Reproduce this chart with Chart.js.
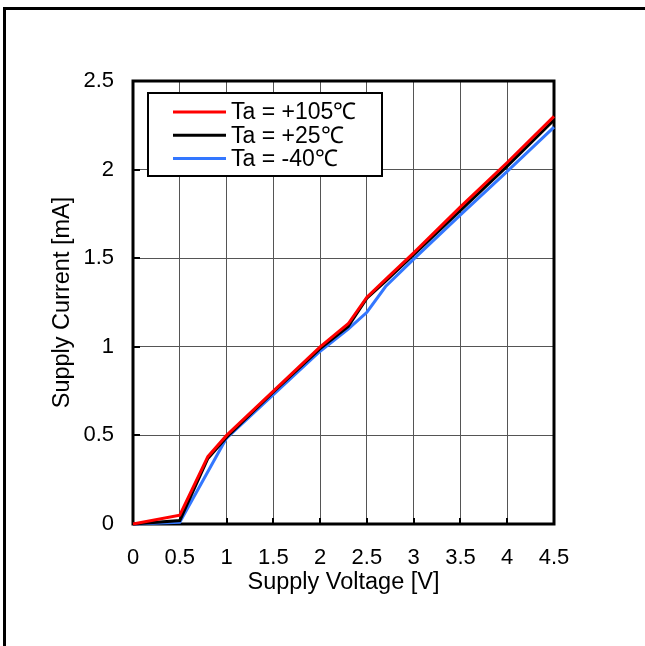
<!DOCTYPE html>
<html>
<head>
<meta charset="utf-8">
<script src="https://cdn.jsdelivr.net/npm/chart.js@4"></script>
<style>
  html, body { margin: 0; padding: 0; background: #fff; }
  canvas { display: block; }
</style>
</head>
<body>
<canvas id="chart" width="645" height="646"></canvas>
<script>
// supply current vs supply voltage
const labels = ['Ta = +105\u2103', 'Ta = +25\u2103', 'Ta = -40\u2103'];
const colors = ['#ff0000', '#000000', '#3377ff'];

const voltHot = [0, 0.5, 0.8, 1, 1.5, 2, 2.3, 2.5, 2.7, 3, 3.5, 4, 4.5];
const currHot = [0, 0.05, 0.38, 0.5, 0.75, 1.0, 1.13, 1.28, 1.38, 1.53, 1.79, 2.04, 2.3];

const voltRoom = [0, 0.5, 0.8, 1, 1.5, 2, 2.3, 2.5, 2.7, 3, 3.5, 4, 4.5];
const currRoom = [0, 0.02, 0.37, 0.49, 0.745, 0.99, 1.115, 1.275, 1.37, 1.52, 1.77, 2.02, 2.28];

const voltCold = [0, 0.5, 1, 1.5, 2, 2.3, 2.5, 2.7, 3, 3.5, 4, 4.5];
const currCold = [0, 0.01, 0.485, 0.73, 0.975, 1.1, 1.195, 1.34, 1.495, 1.745, 1.99, 2.24];

const xTicks = [0, 0.5, 1, 1.5, 2, 2.5, 3, 3.5, 4, 4.5];
const yTicks = [0, 0.5, 1, 1.5, 2, 2.5];

const FONT = "'Liberation Sans', Arial, sans-serif";

function pts(xs, ys) {
    return xs.map((x, i) => ({ x: x, y: ys[i] }));
}

function makeSet(i, xs, ys) {
    return {
        label: labels[i],
        data: pts(xs, ys),
        borderColor: colors[i],
        backgroundColor: colors[i],
        borderWidth: 3,
        pointRadius: 0,
        tension: 0,
        clip: 6
    };
}

// outer frame, plot border and the small inward ticks
const framePlugin = {
    id: 'frame',
    beforeDraw(chart) {
        const c = chart.ctx;
        c.save();
        c.fillStyle = '#fff';
        c.fillRect(0, 0, chart.width, chart.height);
        c.strokeStyle = '#000';
        c.lineWidth = 3;
        c.beginPath();
        c.moveTo(4.5, chart.height);
        c.lineTo(4.5, 8.5);
        c.lineTo(chart.width, 8.5);
        c.stroke();
        c.restore();
    },
    beforeDatasetsDraw(chart) {
        const c = chart.ctx;
        const a = chart.chartArea;
        const xs = chart.scales.x, ys = chart.scales.y;
        c.save();
        c.strokeStyle = '#000';
        c.lineWidth = 2;
        xTicks.forEach(v => {
            const px = Math.round(xs.getPixelForValue(v));
            c.beginPath();
            c.moveTo(px, a.bottom);
            c.lineTo(px, a.bottom - 6);
            c.stroke();
        });
        yTicks.forEach(v => {
            const py = Math.round(ys.getPixelForValue(v));
            c.beginPath();
            c.moveTo(a.left, py);
            c.lineTo(a.left + 7, py);
            c.stroke();
        });
        c.lineWidth = 3;
        c.strokeRect(a.left, a.top, a.right - a.left, a.bottom - a.top);
        c.restore();
    },
    afterDatasetsDraw(chart) {
        // legend box
        const c = chart.ctx;
        const bx = 148, by = 93, bw = 234, bh = 83;
        c.save();
        c.fillStyle = '#fff';
        c.fillRect(bx, by, bw, bh);
        c.strokeStyle = '#000';
        c.lineWidth = 2;
        c.strokeRect(bx, by, bw, bh);
        c.font = '23px ' + FONT;
        c.textBaseline = 'middle';
        c.textAlign = 'left';
        chart.data.datasets.forEach((ds, i) => {
            const y = by + 19 + i * 23.3;
            c.strokeStyle = ds.borderColor;
            c.lineWidth = 3;
            c.beginPath();
            c.moveTo(173, y);
            c.lineTo(226, y);
            c.stroke();
            c.fillStyle = '#000';
            c.fillText(ds.label, 231, y + 1);
        });
        c.restore();
    }
};

const ctx = document.getElementById('chart').getContext('2d');
const chart = new Chart(ctx, {
    type: 'line',
    data: {
        datasets: [
            makeSet(0, voltHot, currHot),
            makeSet(1, voltRoom, currRoom),
            makeSet(2, voltCold, currCold)
        ]
    },
    options: {
        responsive: false,
        animation: false,
        devicePixelRatio: 1,
        layout: { padding: { left: 0, top: 81, right: 91, bottom: 0 } },
        plugins: {
            legend: { display: false },
            tooltip: { enabled: false }
        },
        scales: {
            x: {
                type: 'linear',
                min: 0,
                max: 4.5,
                afterFit: s => { s.height = 122; },
                afterBuildTicks: s => { s.ticks = xTicks.map(v => ({ value: v })); },
                grid: { color: '#555', lineWidth: 1, drawTicks: false },
                border: { display: false },
                ticks: {
                    padding: 21,
                    color: '#000',
                    font: { family: FONT, size: 22 },
                    maxRotation: 0,
                    autoSkip: false,
                    callback: v => String(v)
                },
                title: {
                    display: true,
                    text: 'Supply Voltage [V]',
                    color: '#000',
                    font: { family: FONT, size: 23.5 },
                    padding: { top: 0, bottom: 49 }
                }
            },
            y: {
                type: 'linear',
                min: 0,
                max: 2.5,
                afterFit: s => { s.width = 133; },
                afterBuildTicks: s => { s.ticks = yTicks.map(v => ({ value: v })); },
                grid: { color: '#555', lineWidth: 1, drawTicks: false },
                border: { display: false },
                ticks: {
                    padding: 19,
                    color: '#000',
                    font: { family: FONT, size: 22 },
                    autoSkip: false,
                    callback: v => String(v)
                },
                title: {
                    display: true,
                    text: 'Supply Current [mA]',
                    color: '#000',
                    font: { family: FONT, size: 23.5 },
                    padding: { top: 48, bottom: 0 }
                }
            }
        }
    },
    plugins: [framePlugin]
});
</script>
</body>
</html>
